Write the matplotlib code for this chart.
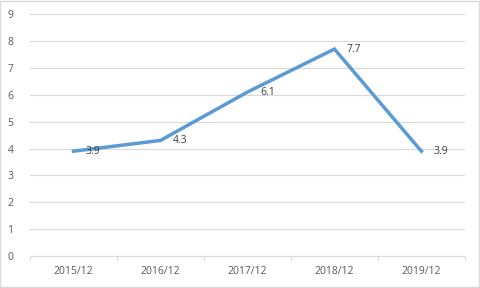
import matplotlib.pyplot as plt

# Chart data
categories = ['2015/12', '2016/12', '2017/12', '2018/12', '2019/12']
values = [3.9, 4.3, 6.1, 7.7, 3.9]
y_ticks = list(range(0, 10))

text_color = '#595959'
grid_color = '#d9d9d9'
line_color = '#5b9bd5'

plt.rcParams['font.family'] = ['Open Sans', 'DejaVu Sans']

fig = plt.figure(figsize=(4.8, 2.88), dpi=100)
ax = fig.add_axes([0.0625, 0.111, 0.906, 0.840])

x = list(range(len(categories)))
ax.plot(x, values, color=line_color, linewidth=2.5, solid_joinstyle='miter')

for xi, v in zip(x, values):
    ax.annotate(f'{v:.1f}', (xi, v), xytext=(9, 0), textcoords='offset points',
                ha='left', va='center', fontsize=7.5, color='#404040')

ax.set_xlim(-0.5, len(categories) - 0.5)
ax.set_ylim(0, 9)
ax.set_yticks(y_ticks)
ax.set_xticks(x)
ax.set_xticklabels(categories)
ax.set_xticks([i - 0.5 for i in range(len(categories) + 1)], minor=True)

ax.grid(axis='y', color=grid_color, linewidth=0.8)
ax.set_axisbelow(True)
for side in ['top', 'right', 'left']:
    ax.spines[side].set_visible(False)
ax.spines['bottom'].set_color(grid_color)
ax.spines['bottom'].set_linewidth(0.8)

ax.tick_params(axis='y', length=0, labelsize=7.5, labelcolor=text_color, pad=12)
ax.tick_params(axis='x', which='major', length=0, labelsize=7.5, labelcolor=text_color, pad=7)
ax.tick_params(axis='x', which='minor', length=3, color=grid_color, width=0.8)

# light border around the whole chart
fig.patches.append(plt.Rectangle((0.001, 0.002), 0.997, 0.995, transform=fig.transFigure,
                                 fill=False, edgecolor=grid_color, linewidth=1))

fig.savefig('out.png', dpi=100)
